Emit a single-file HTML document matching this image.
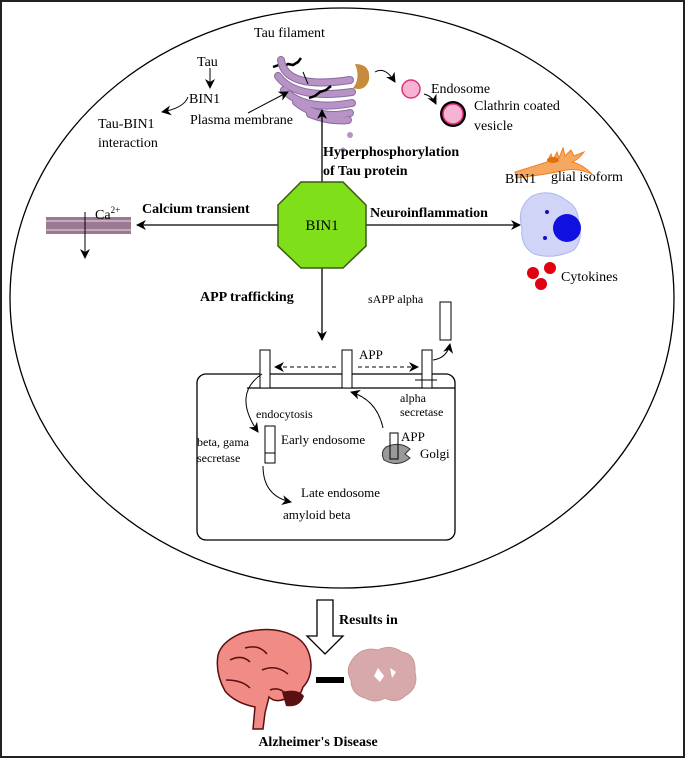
<!DOCTYPE html>
<html><head><style>
html,body{margin:0;padding:0;background:#fff;}
svg{display:block;font-family:"Liberation Serif",serif;}
</style></head><body>
<svg width="685" height="758" viewBox="0 0 685 758" xmlns="http://www.w3.org/2000/svg">
<defs>
<marker id="a" markerWidth="10" markerHeight="10" refX="9" refY="5" orient="auto" markerUnits="userSpaceOnUse"><path d="M0,0 L10,5 L0,10 L3,5 Z" fill="#000"/></marker>
</defs>
<rect x="1" y="1" width="683" height="756" fill="#fff" stroke="#222" stroke-width="2"/>
<ellipse cx="342" cy="298" rx="332" ry="290" fill="none" stroke="#000" stroke-width="1.3"/>

<!-- Tau region -->
<text x="197" y="66" font-size="14">Tau</text>
<line x1="210" y1="68" x2="210" y2="88" stroke="#000" marker-end="url(#a)"/>
<text x="189" y="103" font-size="14">BIN1</text>
<path d="M188,97 Q184,108 162,112" fill="none" stroke="#000" marker-end="url(#a)"/>
<text x="98" y="128" font-size="14">Tau-BIN1</text>
<text x="98" y="147" font-size="14">interaction</text>

<!-- golgi -->
<text x="254" y="37" font-size="14">Tau filament</text>
<path d="M273,67 l6,-2 l4,2 l5,-3 l5,1 l5,-3 l3,-4" fill="none" stroke="#000" stroke-width="2.5"/>
<g fill="none" stroke-linecap="round">
<g stroke="#8a6aa0" stroke-width="8">
<path d="M281,60 Q285,90 350,80"/>
<path d="M278,76 Q295,100 352,92"/>
<path d="M284,90 Q305,112 352,103"/>
<path d="M296,102 Q318,120 350,113"/>
<path d="M310,114 Q330,122 348,120"/>
</g>
<g stroke="#b793c6" stroke-width="6">
<path d="M281,60 Q285,90 350,80"/>
<path d="M278,76 Q295,100 352,92"/>
<path d="M284,90 Q305,112 352,103"/>
<path d="M296,102 Q318,120 350,113"/>
<path d="M310,114 Q330,122 348,120"/>
</g>
</g>
<circle cx="350" cy="135" r="3" fill="#b793c6"/>
<circle cx="343" cy="150" r="2.5" fill="#b793c6"/>
<path d="M355,64 q16,0 14,16 q-4,12 -16,8 q8,-10 2,-24z" fill="#c88a3c"/>
<path d="M303,72 l5,12" stroke="#000" stroke-width="1"/>
<path d="M309,98 l6,-2 l5,-4 l6,-2 l5,-4" fill="none" stroke="#000" stroke-width="2.5"/>
<line x1="248" y1="113" x2="288" y2="92" stroke="#000" marker-end="url(#a)"/>
<text x="190" y="124" font-size="14">Plasma membrane</text>
<path d="M375,72 q10,-6 20,10" fill="none" stroke="#000" marker-end="url(#a)"/>
<circle cx="411" cy="89" r="9" fill="#f7b3d3" stroke="#e0307a" stroke-width="1.5"/>
<text x="431" y="93" font-size="14">Endosome</text>
<path d="M424,94 q8,2 12,10" fill="none" stroke="#000" marker-end="url(#a)"/>
<circle cx="453" cy="114" r="13" fill="#000"/>
<circle cx="453" cy="114" r="10" fill="#f7b3d3" stroke="#e0307a" stroke-width="1.5"/>
<text x="474" y="110" font-size="14">Clathrin coated</text>
<text x="474" y="130" font-size="14">vesicle</text>

<!-- central arrows -->
<line x1="322" y1="182" x2="322" y2="110" stroke="#000" stroke-width="1.3" marker-end="url(#a)"/>
<text x="323" y="156" font-size="14" font-weight="bold">Hyperphosphorylation</text>
<text x="323" y="175" font-size="14" font-weight="bold">of Tau protein</text>
<line x1="278" y1="225" x2="137" y2="225" stroke="#000" stroke-width="1.3" marker-end="url(#a)"/>
<text x="142" y="213" font-size="14" font-weight="bold">Calcium transient</text>
<line x1="366" y1="225" x2="520" y2="225" stroke="#000" stroke-width="1.3" marker-end="url(#a)"/>
<text x="370" y="217" font-size="14" font-weight="bold">Neuroinflammation</text>
<line x1="322" y1="268" x2="322" y2="340" stroke="#000" stroke-width="1.3" marker-end="url(#a)"/>
<text x="200" y="301" font-size="14" font-weight="bold">APP trafficking</text>

<polygon points="301,182 343,182 366,205 366,246 343,268 301,268 278,246 278,205" fill="#7fe01a" stroke="#3a5a10" stroke-width="1.5"/>
<text x="322" y="230" font-size="15" text-anchor="middle">BIN1</text>

<!-- calcium membrane -->
<rect x="46" y="217" width="85" height="17" fill="#9a7a90"/>
<line x1="46" y1="221" x2="131" y2="221" stroke="#c7a8bd" stroke-width="2"/>
<line x1="46" y1="230" x2="131" y2="230" stroke="#c7a8bd" stroke-width="2"/>
<text x="95" y="219" font-size="14">Ca<tspan font-size="9" dy="-6">2+</tspan></text>
<line x1="85" y1="212" x2="85" y2="258" stroke="#000" marker-end="url(#a)"/>

<!-- glial / microglia -->
<path d="M515,172 q20,-6 32,-10 l4,-8 l2,6 l4,-8 l2,6 l4,-10 l2,8 l6,-6 l3,6 l10,-4 q-6,8 -12,10 q10,2 20,12 q-14,-6 -26,-4 q-16,4 -50,8z" fill="#f7a860" stroke="#f08020"/>
<ellipse cx="553" cy="160" rx="6" ry="3" fill="#e07010"/>
<text x="505" y="183" font-size="14">BIN1</text>
<text x="551" y="181" font-size="14">glial isoform</text>
<path d="M532,196 q18,-8 34,4 q14,8 12,24 q6,14 -4,26 q-20,10 -40,4 q-14,-8 -12,-26 q-6,-20 10,-32z" fill="#d0d4f6" stroke="#b0b6ee"/>
<circle cx="567" cy="228" r="14" fill="#1010e0"/>
<circle cx="547" cy="212" r="2" fill="#1010c0"/>
<circle cx="545" cy="238" r="2" fill="#1010c0"/>
<circle cx="533" cy="273" r="6" fill="#e00010"/>
<circle cx="550" cy="268" r="6" fill="#e00010"/>
<circle cx="541" cy="284" r="6" fill="#e00010"/>
<text x="561" y="281" font-size="14">Cytokines</text>

<!-- cell box -->
<rect x="197" y="374" width="258" height="166" rx="9" fill="none" stroke="#000" stroke-width="1.3"/>
<line x1="247" y1="388" x2="455" y2="388" stroke="#000" stroke-width="1.3"/>
<rect x="260" y="350" width="10" height="38" fill="#fff" stroke="#000"/>
<rect x="342" y="350" width="10" height="38" fill="#fff" stroke="#000"/>
<rect x="422" y="350" width="10" height="38" fill="#fff" stroke="#000"/>
<line x1="415" y1="380" x2="437" y2="380" stroke="#000"/>
<rect x="440" y="302" width="11" height="38" fill="#fff" stroke="#000"/>
<text x="368" y="303" font-size="12">sAPP alpha</text>
<path d="M433,360 q14,-2 17,-16" fill="none" stroke="#000" marker-end="url(#a)"/>
<line x1="336" y1="367" x2="275" y2="367" stroke="#000" stroke-dasharray="4,3" marker-end="url(#a)"/>
<line x1="358" y1="367" x2="418" y2="367" stroke="#000" stroke-dasharray="4,3" marker-end="url(#a)"/>
<text x="359" y="359" font-size="13">APP</text>
<text x="400" y="402" font-size="12">alpha</text>
<text x="400" y="416" font-size="12">secretase</text>
<path d="M262,374 q-30,20 -4,58" fill="none" stroke="#000" marker-end="url(#a)"/>
<text x="256" y="418" font-size="12">endocytosis</text>
<rect x="265" y="426" width="10" height="37" fill="#fff" stroke="#000"/>
<line x1="265" y1="453" x2="275" y2="453" stroke="#000"/>
<text x="197" y="446" font-size="12">beta, gama</text>
<text x="197" y="462" font-size="12">secretase</text>
<text x="281" y="444" font-size="13">Early endosome</text>
<path d="M383,428 q-6,-28 -32,-36" fill="none" stroke="#000" marker-end="url(#a)"/>
<path d="M386,447 q14,-6 24,2 l-5,5 l5,4 q-12,10 -26,2 q-4,-8 2,-13z" fill="#999" stroke="#333"/>
<rect x="390" y="433" width="8" height="26" fill="none" stroke="#000"/>
<text x="401" y="441" font-size="13">APP</text>
<text x="420" y="458" font-size="13">Golgi</text>
<path d="M263,466 q0,30 28,36" fill="none" stroke="#000" marker-end="url(#a)"/>
<text x="301" y="497" font-size="13">Late endosome</text>
<text x="283" y="519" font-size="13">amyloid beta</text>

<!-- Results arrow -->
<path d="M317,600 L333,600 L333,636 L343,636 L325,654 L307,636 L317,636 Z" fill="#fff" stroke="#000" stroke-width="1.3"/>
<text x="339" y="624" font-size="14" font-weight="bold">Results in</text>
<!-- brain -->
<path d="M218,655 q4,-14 24,-22 q30,-8 50,2 q18,8 19,30 q0,14 -8,22 q-4,14 -18,12 q-10,4 -16,-2 l-4,16 l-2,16 l-10,0 l2,-22 q-20,-4 -30,-16 q-10,-18 -7,-36z" fill="#f18b85" stroke="#5a1010" stroke-width="1.5"/>
<path d="M230,660 q12,-6 20,2 M245,648 q14,-4 22,6 M262,670 q14,-6 26,4 M226,680 q16,0 24,8 M270,690 q10,-4 18,6" fill="none" stroke="#5a1010" stroke-width="1.5"/>
<path d="M282,692 q16,-4 22,4 q-4,12 -18,10z" fill="#5a1010"/>
<rect x="316" y="677" width="28" height="6" fill="#000"/>
<path d="M352,660 q10,-14 26,-10 q12,-6 24,2 q14,2 13,20 q4,16 -10,24 q-8,8 -20,2 q-10,6 -20,0 q-14,-4 -14,-18 q-6,-10 1,-20z" fill="#d7a9ab" stroke="#c89a9c"/>
<path d="M378,668 l6,8 l-4,6 l-6,-6z M390,668 l6,4 l-4,6z" fill="#fff"/>
<text x="318" y="746" font-size="14" font-weight="bold" text-anchor="middle">Alzheimer's Disease</text>
</svg>
</body></html>
